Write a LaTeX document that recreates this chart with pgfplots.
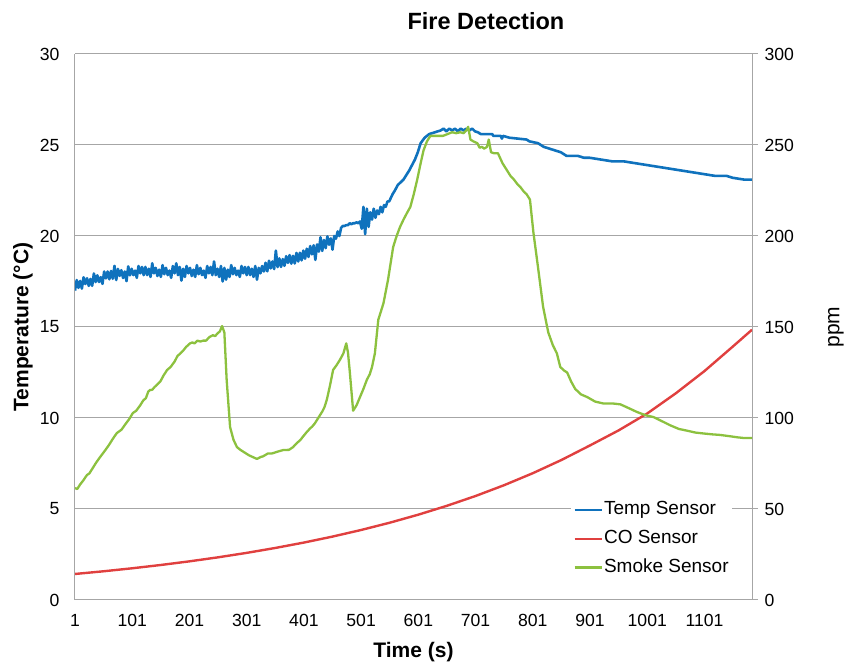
\documentclass[border=0pt]{standalone}
\usepackage{pgfplots}
\pgfplotsset{compat=1.18}
\usepackage{fontspec}
\setmainfont{Liberation Sans}
\definecolor{tempc}{HTML}{0F72BD}
\definecolor{coc}{HTML}{E0403F}
\definecolor{smokec}{HTML}{8CC13F}
\definecolor{gridc}{HTML}{A6A6A6}

\begin{document}
\begin{tikzpicture}
\begin{axis}[name=ax, scale only axis, width=677pt, height=546pt,
  xmin=1, xmax=1184, ymin=0, ymax=30,
  axis x line*=bottom, axis y line*=left,
  axis line style={gridc, line width=1pt, -},
  xtick={1,101,...,1101}, ytick={0,5,...,30},
  major tick length=0pt,
  ymajorgrids, grid style={gridc, line width=1pt},
  tick label style={font=\fontsize{17.6}{20}\selectfont},
  /pgf/number format/assume math mode=true,
  /pgf/number format/1000 sep={},
  xticklabel style={yshift=-11pt},
  yticklabel style={xshift=-12pt},
  xlabel={Time (s)}, ylabel={Temperature (°C)},
  label style={font=\bfseries\fontsize{21}{24}\selectfont},
  xlabel style={at={(axis description cs:0.5,-0.1044)}, anchor=base},
  ylabel style={at={(axis description cs:-0.062,0.5)}, anchor=south, inner sep=0pt},
  title={Fire Detection},
  title style={font=\bfseries\fontsize{23.5}{26}\selectfont, at={(axis description cs:0.607,1.033)}, anchor=base},
]
\addplot[tempc, line width=2.6pt, line join=round] coordinates {
(1,17.0) (4,17.58) (7,17.15) (10,17.53) (13,17.11) (16,17.73) (19,17.36) (22,17.68) (25,17.26) (28,17.64)
(31,17.26) (34,17.94) (37,17.47) (40,17.84) (43,17.47) (46,17.74) (49,17.37) (52,18.05) (55,17.67) (58,18.05)
(61,17.62) (64,18.08) (67,17.65) (70,18.36) (73,17.58) (76,18.19) (79,17.81) (82,18.12) (85,17.69) (88,18.05)
(91,17.52) (94,18.33) (97,17.84) (100,18.2) (103,17.85) (106,18.1) (109,17.7) (112,18.35) (115,17.95) (118,18.3)
(121,17.85) (124,18.3) (127,17.85) (130,18.2) (133,17.75) (136,18.5) (139,17.95) (142,18.25) (145,17.8) (148,18.15)
(151,17.75) (154,18.4) (157,17.9) (160,18.25) (163,17.85) (166,18.1) (169,17.7) (172,18.35) (175,17.95) (178,18.5)
(181,17.85) (184,18.3) (187,17.55) (190,18.2) (193,17.75) (196,18.35) (199,17.95) (202,18.25) (205,17.8) (208,18.15)
(211,17.75) (214,18.4) (217,17.9) (220,18.25) (223,17.85) (226,18.1) (229,17.7) (232,18.35) (235,17.95) (238,18.3)
(241,17.85) (244,18.6) (247,17.85) (250,18.2) (253,17.75) (256,18.35) (259,17.5) (262,18.25) (265,17.6) (268,18.15)
(271,17.75) (274,18.4) (277,17.9) (280,18.25) (283,17.85) (286,18.1) (289,17.75) (292,18.35) (295,17.95) (298,18.3)
(301,17.85) (304,18.3) (307,17.85) (310,18.2) (313,17.75) (316,18.35) (319,17.6) (322,18.25) (325,17.95) (328,18.35)
(331,18.05) (334,18.53) (337,18.06) (340,18.64) (343,18.22) (346,18.6) (349,18.18) (352,19.2) (355,18.29) (358,18.77)
(361,18.3) (364,18.73) (367,18.36) (370,18.89) (373,18.52) (376,18.95) (379,18.48) (382,18.91) (385,18.49) (388,19.07)
(391,18.6) (394,19.08) (397,18.66) (400,19.2) (403,18.75) (406,19.3) (409,18.85) (412,19.45) (415,18.99) (418,19.49)
(421,18.69) (424,19.54) (427,19.14) (430,19.93) (433,19.18) (436,19.78) (439,19.33) (442,19.98) (445,19.52) (448,19.87)
(451,19.25) (454,20.0) (457,19.85) (460,20.25) (463,20.0) (466,20.45) (469,20.55) (472,20.55) (475,20.6) (478,20.6)
(481,20.7) (484,20.65) (487,20.7) (490,20.7) (493,20.75) (496,20.7) (499,20.8) (502,20.4) (505,21.6) (508,20.1)
(511,21.5) (514,20.5) (517,21.3) (520,20.9) (523,21.5) (526,21.0) (529,21.4) (532,21.2) (535,21.6) (538,21.3)
(541,21.7) (544,21.6) (547,21.9) (550,21.9) (553,22.1) (556,22.3) (560,22.5) (565,22.8) (575,23.1) (585,23.6)
(595,24.2) (600,24.6) (605,25.1) (612,25.4) (620,25.6) (630,25.7) (640,25.8) (645,25.9) (650,25.75) (655,25.9)
(660,25.8) (665,25.9) (670,25.75) (675,25.9) (680,25.8) (685,25.9) (690,25.8) (695,25.9) (700,25.75) (705,25.7)
(710,25.6) (730,25.6) (732,25.5) (745,25.5) (747,25.35) (749,25.5) (760,25.4) (790,25.3) (795,25.2) (810,25.1)
(820,24.9) (840,24.7) (850,24.6) (860,24.4) (880,24.4) (890,24.3) (900,24.3) (920,24.2) (940,24.1) (960,24.1)
(980,24.0) (1000,23.9) (1020,23.8) (1040,23.7) (1060,23.6) (1080,23.5) (1100,23.4) (1120,23.3) (1140,23.3) (1150,23.2)
(1170,23.1) (1184,23.1)
};
\end{axis}
\begin{axis}[scale only axis, width=677pt, height=546pt,
  xmin=1, xmax=1184, ymin=0, ymax=300,
  axis x line=none, axis y line*=right,
  axis line style={gridc, line width=1pt, -},
  ytick={0,50,...,300}, tick align=outside, major tick length=6pt,
  tick style={gridc, line width=1pt},
  tick label style={font=\fontsize{17.6}{20}\selectfont},
  /pgf/number format/assume math mode=true,
  yticklabel style={xshift=3pt},
  ylabel={ppm},
  ylabel style={font=\fontsize{21}{24}\selectfont, at={(axis description cs:1.112,0.5)}, anchor=north, inner sep=0pt},
  legend cell align=left,
  legend style={at={(axis description cs:0.733,0.1947)}, anchor=north west, draw=none, fill=white, inner sep=2pt,
    font=\fontsize{19}{22}\selectfont,
    nodes={inner xsep=1.2pt, inner ysep=5.5pt, text height=13.6pt, text depth=4pt}},
  legend image code/.code={\draw[#1] (0pt,0pt) -- (27pt,0pt);},
]
\addlegendimage{tempc, line width=2.4pt}
\addlegendentry{Temp Sensor}
\addplot[coc, line width=2.4pt] coordinates {
(1,14.30) (51,15.78) (101,17.43) (151,19.24) (201,21.24) (251,23.45) (301,25.89) (351,28.59) (401,31.56)
(451,34.84) (501,38.47) (551,42.47) (601,46.89) (651,51.77) (701,57.15) (751,63.10) (801,69.67) (851,76.93)
(901,84.94) (951,93.2) (1001,102.5) (1051,113.6) (1101,125.8) (1151,139.4) (1184,148.5)
};
\addlegendentry{CO Sensor}
\addplot[smokec, line width=2.3pt, line join=round] coordinates {
(1,61.5) (5,61) (10,63.5) (15,65.5) (22,68.7) (26,69.5) (30,71.5) (38,75.5) (45,78.6) (52,81.5) (60,85) (67,88.5)
(74,91.7) (82,93.5) (90,97) (96,99.5) (102,102.7) (108,104) (115,107) (120,109.5) (125,111) (129,114.5) (132,115.4)
(136,115.5) (140,117) (145,118.5) (150,120) (156,123.5) (162,126.4) (168,128) (175,131) (180,134) (185,135.5)
(190,137) (195,139) (202,141) (206,141.5) (210,141) (215,142.5) (220,142) (225,142.5) (230,142.5) (236,144.5)
(242,145.5) (246,145) (250,146.5) (254,147.5) (258,150.5) (262,147) (266,121) (272,95) (278,88) (284,84) (290,82.5)
(295,81.5) (300,80.5) (305,79.5) (312,78.5) (319,77.5) (325,78.5) (330,79) (338,80.5) (345,80.5) (355,81.5)
(365,82.4) (375,82.5) (382,84) (388,86) (395,88) (400,90) (406,92.3) (411,94) (416,95.5) (420,97) (424,99)
(428,101) (433,103.5) (437,106) (441,110) (446,117) (452,126.4) (458,129) (464,132) (470,135.5) (475,141) (478,136)
(481,126) (487,104) (493,107) (499,111.5) (505,116) (511,121) (516,124) (520,128) (525,135.5) (531,154) (535,158)
(540,163) (548,176) (557,194) (563,200) (569,205) (575,209) (580,212) (587,216) (593,223) (599,231) (605,240)
(610,247) (616,252) (622,255) (633,255) (644,255) (652,256) (660,257) (667,256.5) (674,257) (680,256.5) (685,258)
(688,260) (692,253) (697,252) (704,251) (708,248.5) (712,249) (716,248) (721,249) (724,253) (728,246) (733,245.5)
(740,245.5) (748,240) (756,236) (762,233) (768,231) (774,228.5) (779,227) (785,224.5) (790,223) (796,220) (802,202)
(810,183) (819,161) (828,147) (836,140) (843,135.5) (849,128) (856,126) (861,125) (868,120) (875,116) (885,113)
(896,111.5) (910,109) (924,108) (940,108) (954,107.5) (968,105.5) (983,103.3) (998,101.5) (1012,100.5) (1025,98.5)
(1041,96) (1056,94) (1071,93) (1085,92) (1099,91.5) (1115,91) (1128,90.7) (1145,90) (1158,89.4) (1170,89) (1184,89)
};
\addlegendentry{Smoke Sensor}
\end{axis}
\path ([shift={(-75pt,-66pt)}]ax.south west) rectangle ++(846pt,666pt);
\end{tikzpicture}
\end{document}
